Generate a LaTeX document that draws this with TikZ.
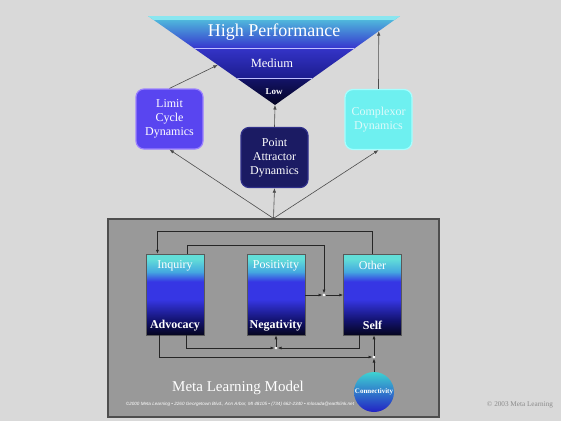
\documentclass[tikz,border=0pt]{standalone}
\usepackage{fontspec}
\setmainfont{Liberation Serif}
\newfontfamily\footfont{Liberation Sans}
\usetikzlibrary{arrows.meta,calc,positioning}
\definecolor{page}{HTML}{D9D9D9}
\definecolor{metafill}{HTML}{999999}
\definecolor{metaedge}{HTML}{4E4E4E}
\definecolor{hpglow}{HTML}{8AE6F0}
\definecolor{hpcyan}{HTML}{52C8DE}
\definecolor{hpblue}{HTML}{3636CE}
\definecolor{midtop}{HTML}{3434C8}
\definecolor{midbottom}{HTML}{1C1C8E}
\definecolor{lowtop}{HTML}{14146A}
\definecolor{lowbottom}{HTML}{02021E}
\definecolor{limitfill}{HTML}{5945F0}
\definecolor{limitedge}{HTML}{9C82FF}
\definecolor{pointfill}{HTML}{1B1B63}
\definecolor{pointedge}{HTML}{30308A}
\definecolor{complexfill}{HTML}{6EF0F0}
\definecolor{complexedge}{HTML}{A6FFFF}
\definecolor{complextext}{HTML}{DDFAFA}
\definecolor{stagecyan}{HTML}{62DED8}
\definecolor{stageteal}{HTML}{44A8E0}
\definecolor{stageblue}{HTML}{3636E4}
\definecolor{stagenavy}{HTML}{12126E}
\definecolor{stagedark}{HTML}{05051F}
\definecolor{conntop}{HTML}{3ED2D2}
\definecolor{connbottom}{HTML}{2222C4}
\definecolor{stamp}{HTML}{8A8A8A}
\pgfdeclareverticalshading{stagefade}{100bp}{color(0bp)=(stagedark); color(25bp)=(stagedark); color(34bp)=(stagenavy); color(47bp)=(stageblue); color(58bp)=(stageblue); color(64bp)=(stageteal); color(72bp)=(stagecyan); color(100bp)=(stagecyan)}
\tikzset{
  dynbox/.style={
    rounded corners=8pt,
    line width=1.2pt,
    minimum width=67pt,
    minimum height=60pt,
    align=center,
    text=white,
    font=\fontsize{12}{14}\selectfont,
    inner sep=2pt
  },
  limitbox/.style={fill=limitfill, draw=limitedge},
  pointbox/.style={fill=pointfill, draw=pointedge},
  complexbox/.style={fill=complexfill, draw=complexedge, text=complextext},
  metabox/.style={draw=metaedge, line width=1.2pt, fill=metafill, minimum width=331pt, minimum height=198pt, inner sep=0pt},
  stagebox/.style={draw=black!65, line width=0.5pt, shade, shading=stagefade, minimum width=58pt, minimum height=81pt, inner sep=0pt},
  stagetop/.style={text=white, font=\fontsize{12}{14}\selectfont, inner sep=0pt},
  stagebottom/.style={text=white, font=\fontsize{12}{14}\selectfont\bfseries, inner sep=0pt},
  connect/.style={circle, minimum size=40pt, inner sep=0pt, top color=conntop, bottom color=connbottom, text=white, font=\fontsize{7}{8}\selectfont\bfseries},
  junction/.style={circle, fill=white, inner sep=0pt, minimum size=2.6pt},
  flow/.style={line width=0.7pt, draw=black!85, -{Latex[length=4pt,width=3pt]}},
  fan/.style={line width=0.6pt, draw=black!70, -{Latex[length=4.5pt,width=3.5pt]}},
  bandline/.style={draw=white!75!blue, line width=0.8pt},
  bandtext/.style={text=white, inner sep=0pt}
}

\begin{document}
\begin{tikzpicture}[x=1pt,y=-1pt]
\path[use as bounding box] (0,0) rectangle (561,421);
\fill[page] (0,0) rectangle (561,421);

\coordinate (tl) at (148,16);
\coordinate (tr) at (400,16);
\coordinate (apex) at (275,105);
\begin{scope}
  \clip (tl) -- (tr) -- (apex) -- cycle;
  \shade[top color=hpcyan, bottom color=hpblue] (140,16) rectangle (410,48);
  \fill[hpglow] (140,16) rectangle (410,19.5);
  \shade[top color=midtop, bottom color=midbottom] (140,48) rectangle (410,78);
  \shade[top color=lowtop, bottom color=lowbottom] (140,78) rectangle (410,106);
  \draw[bandline] (140,48) -- (410,48);
  \draw[bandline] (140,78) -- (410,78);
\end{scope}
\node[bandtext, font=\fontsize{18}{20}\selectfont] (high) at (274,32) {High Performance};
\node[bandtext, font=\fontsize{12.5}{14}\selectfont] (medium) at (272,63) {Medium};
\node[bandtext, font=\fontsize{9}{10}\selectfont\bfseries] (low) at (274,92) {Low};

\node[dynbox, limitbox] (limit) at (169.5,119) {Limit\\Cycle\\Dynamics};
\node[dynbox, pointbox] (point) at (274.5,157.5) {Point\\Attractor\\Dynamics};
\node[dynbox, complexbox] (complex) at (378.5,119.5) {Complexor\\Dynamics};

\draw[fan] (limit.north) -- ($(tl)!0.55!(apex)$);
\draw[fan] (point.north) -- (apex);
\draw[fan] (complex.north) -- ($(tr)!0.17!(apex)$);

\node[metabox] (meta) at (273.5,318) {};

\draw[fan] (meta.north) -- (limit.south);
\draw[fan] (meta.north) -- (point.south);
\draw[fan] (meta.north) -- (complex.south);

\node[stagebox] (inquiry) at (175,294.5) {};
\node[stagebox] (positivity) at (276,294.5) {};
\node[stagebox] (other) at (372.5,294.5) {};
\node[stagetop] (inquiry-t) at ($(inquiry.north)+(0,12)$) {Inquiry};
\node[stagebottom] (inquiry-b) at ($(inquiry.south)+(0,-10)$) {Advocacy};
\node[stagetop] (positivity-t) at ($(positivity.north)+(0,12)$) {Positivity};
\node[stagebottom] (positivity-b) at ($(positivity.south)+(0,-10)$) {Negativity};
\node[stagetop] (other-t) at ($(other.north)+(0,12)$) {Other};
\node[stagebottom] (other-b) at ($(other.south)+(0,-10)$) {Self};

\node[junction] (j1) at (324,295) {};
\node[junction] (j2) at (276,348) {};
\node[junction] (j3) at (374,357) {};
\node[connect] (connectivity) at (374,392) {Connectivity};

\draw[flow] (other.north) -- ++(0,-22) -| ($(inquiry.north west)!0.2!(inquiry.north east)$);
\draw[flow] ($(inquiry.north west)!0.71!(inquiry.north east)$) -- ++(0,-8) -| (j1);
\draw[flow] (positivity.east |- j1) -- (j1);
\draw[flow] (j1) -- (other.west |- j1);
\draw[flow] ($(inquiry.south west)!0.69!(inquiry.south east)$) |- (j2);
\draw[flow] ($(other.south west)!0.27!(other.south east)$) |- (j2);
\draw[flow] (j2) -- (positivity.south);
\draw[flow] ($(inquiry.south west)!0.24!(inquiry.south east)$) |- (j3);
\draw[flow] (j3) -- (other.south -| j3);
\draw[flow] (connectivity) -- (j3);

\node[text=white, font=\fontsize{15}{17}\selectfont] (title) at (238,388) {Meta Learning Model};
\node[text=white, font=\footfont\itshape\fontsize{4.6}{5}\selectfont] (footer) at (240,404) {©2000 Meta Learning • 2260 Georgetown Blvd., Ann Arbor, MI 48105 • (734) 662-2340 • mlosada@earthlink.net};
\node[text=stamp, font=\fontsize{7.2}{8}\selectfont] (stamp) at (520,405) {© 2003 Meta Learning};

\end{tikzpicture}
\end{document}
